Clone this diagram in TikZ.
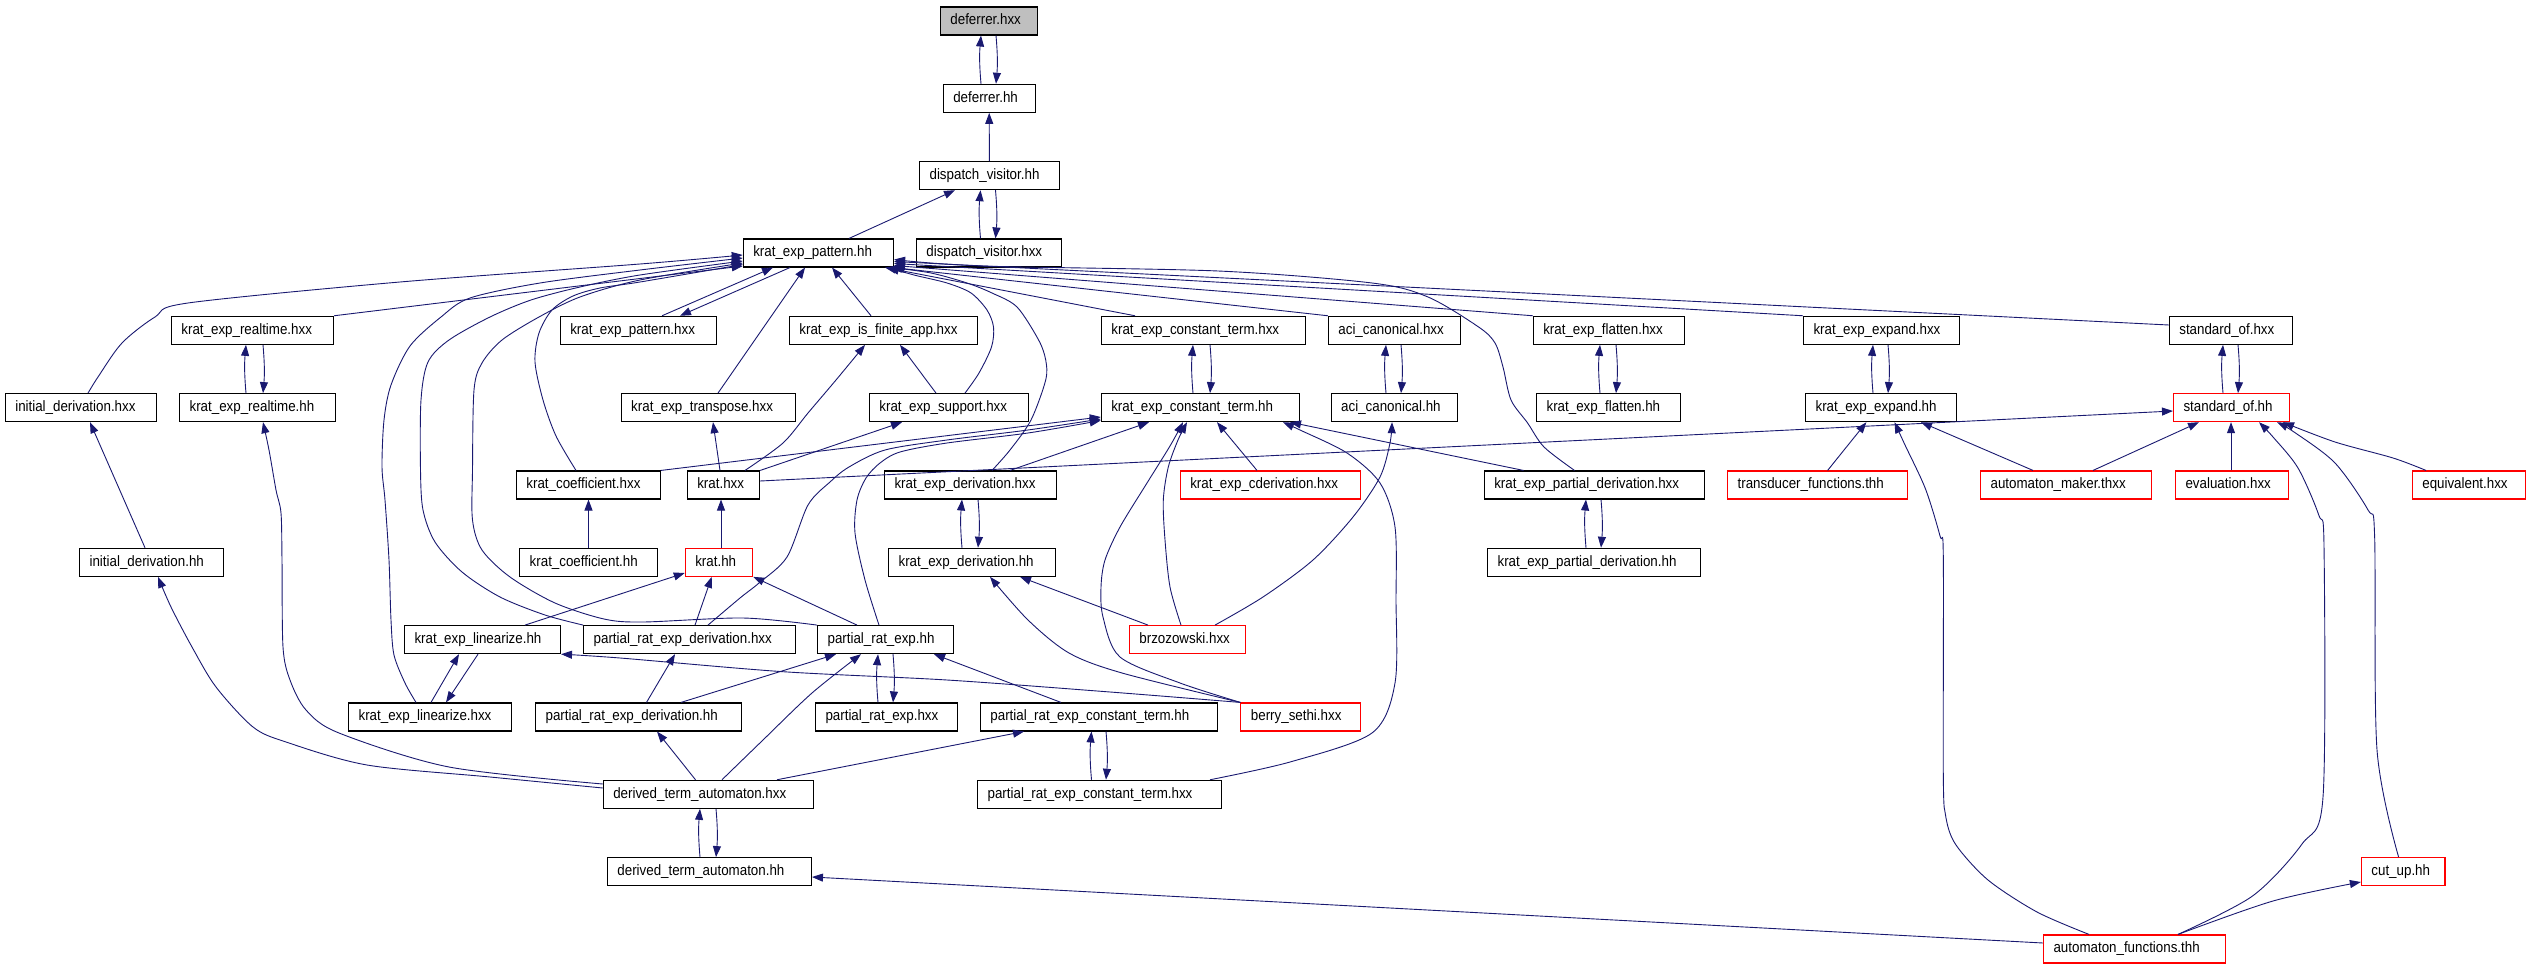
\documentclass[tikz,border=0pt]{standalone}
\usepackage{fontspec}
\setmainfont{Liberation Sans}[FakeStretch=0.89]
\usetikzlibrary{arrows.meta}
\definecolor{edgec}{HTML}{191970}
\definecolor{grayfill}{HTML}{BFBFBF}
\tikzset{
  box/.style={draw=black, fill=white, line width=1.1pt, rectangle, minimum height=28pt,
    inner ysep=0pt, inner xsep=10pt, align=left, text height=11pt, text depth=3.5pt,
    font=\fontsize{15}{17}\selectfont},
  redbox/.style={box, draw=red},
  graybox/.style={box, fill=grayfill},
  e/.style={draw=edgec, line width=0.9pt, -{Triangle[length=11pt,width=8pt]}},
}
\newcommand\DNode[6]{%
  \pgfmathsetmacro\nw{#4-#3-20}%
  \pgfmathsetmacro\ncx{(#3+#4)/2}%
  \pgfmathsetmacro\ncy{21+77.33*#5}%
  \node[#1,text width=\nw pt] (#2) at (\ncx,\ncy) {\mbox{#6}};}
\newcommand\Pair[4]{%
  \draw[e] (#2.north -| #3,0) to[bend left=5] (#1.south -| #3,0);
  \draw[e] (#1.south -| #4,0) to[bend left=5] (#2.north -| #4,0);}
\begin{document}
\begin{tikzpicture}[x=1pt,y=-1pt]
\useasboundingbox (0,0) rectangle (2529,968);
\DNode{graybox}{defhxx}{940.4}{1037.2}{0}{deferrer.hxx}
\DNode{box}{defhh}{943.3}{1035.1}{1}{deferrer.hh}
\DNode{box}{dvhh}{919.6}{1059.2}{2}{dispatch\_visitor.hh}
\DNode{box}{kephh}{743.3}{893.5}{3}{krat\_exp\_pattern.hh}
\DNode{box}{dvhxx}{916.4}{1061.3}{3}{dispatch\_visitor.hxx}
\DNode{box}{kerthxx}{171.4}{333.5}{4}{krat\_exp\_realtime.hxx}
\DNode{box}{kephxx}{560.3}{716.3}{4}{krat\_exp\_pattern.hxx}
\DNode{box}{keifa}{789.4}{977.6}{4}{krat\_exp\_is\_finite\_app.hxx}
\DNode{box}{kecthxx}{1101.4}{1305.4}{4}{krat\_exp\_constant\_term.hxx}
\DNode{box}{acihxx}{1328.4}{1460.2}{4}{aci\_canonical.hxx}
\DNode{box}{kefhxx}{1533.3}{1684.3}{4}{krat\_exp\_flatten.hxx}
\DNode{box}{keehxx}{1803.5}{1959.1}{4}{krat\_exp\_expand.hxx}
\DNode{box}{sohxx}{2169.3}{2292.7}{4}{standard\_of.hxx}
\DNode{box}{idhxx}{5.3}{156.3}{5}{initial\_derivation.hxx}
\DNode{box}{kerthh}{179.6}{335.5}{5}{krat\_exp\_realtime.hh}
\DNode{box}{ketr}{621.2}{795.5}{5}{krat\_exp\_transpose.hxx}
\DNode{box}{kesup}{869.4}{1028.2}{5}{krat\_exp\_support.hxx}
\DNode{box}{kecthh}{1101.3}{1299.4}{5}{krat\_exp\_constant\_term.hh}
\DNode{box}{acihh}{1331.2}{1457.4}{5}{aci\_canonical.hh}
\DNode{box}{kefhh}{1536.6}{1680.2}{5}{krat\_exp\_flatten.hh}
\DNode{box}{keehh}{1805.6}{1956.6}{5}{krat\_exp\_expand.hh}
\DNode{redbox}{sohh}{2173.5}{2289.3}{5}{standard\_of.hh}
\DNode{box}{kchxx}{516.4}{660.4}{6}{krat\_coefficient.hxx}
\DNode{box}{krathxx}{687.3}{759.6}{6}{krat.hxx}
\DNode{box}{kedhxx}{884.5}{1056.4}{6}{krat\_exp\_derivation.hxx}
\DNode{redbox}{kecd}{1180.3}{1360.3}{6}{krat\_exp\_cderivation.hxx}
\DNode{box}{kepdhxx}{1484.3}{1704.3}{6}{krat\_exp\_partial\_derivation.hxx}
\DNode{redbox}{tf}{1727.6}{1907.3}{6}{transducer\_functions.thh}
\DNode{redbox}{am}{1980.6}{2151.5}{6}{automaton\_maker.thxx}
\DNode{redbox}{ev}{2175.5}{2288.5}{6}{evaluation.hxx}
\DNode{redbox}{eq}{2412.3}{2525.3}{6}{equivalent.hxx}
\DNode{box}{idhh}{79.6}{223.3}{7}{initial\_derivation.hh}
\DNode{box}{kchh}{519.7}{657.6}{7}{krat\_coefficient.hh}
\DNode{redbox}{krathh}{685.3}{752.7}{7}{krat.hh}
\DNode{box}{kedhh}{888.6}{1055.6}{7}{krat\_exp\_derivation.hh}
\DNode{box}{kepdhh}{1487.6}{1700.2}{7}{krat\_exp\_partial\_derivation.hh}
\DNode{box}{kelhh}{404.5}{560.5}{8}{krat\_exp\_linearize.hh}
\DNode{box}{predhxx}{583.7}{795.5}{8}{partial\_rat\_exp\_derivation.hxx}
\DNode{box}{prehh}{817.6}{953.5}{8}{partial\_rat\_exp.hh}
\DNode{redbox}{brz}{1129.4}{1245.4}{8}{brzozowski.hxx}
\DNode{box}{kelhxx}{348.6}{511.5}{9}{krat\_exp\_linearize.hxx}
\DNode{box}{predhh}{535.6}{741.2}{9}{partial\_rat\_exp\_derivation.hh}
\DNode{box}{prehxx}{815.5}{957.6}{9}{partial\_rat\_exp.hxx}
\DNode{box}{prectshh}{980.4}{1217.6}{9}{partial\_rat\_exp\_constant\_term.hh}
\DNode{redbox}{bs}{1240.9}{1360.2}{9}{berry\_sethi.hxx}
\DNode{box}{dtahxx}{603.3}{813.1}{10}{derived\_term\_automaton.hxx}
\DNode{box}{prectshxx}{977.6}{1221.3}{10}{partial\_rat\_exp\_constant\_term.hxx}
\DNode{box}{dtahh}{607.4}{811.4}{11}{derived\_term\_automaton.hh}
\DNode{redbox}{cut}{2361.4}{2445}{11}{cut\_up.hh}
\DNode{redbox}{af}{2043.5}{2225.6}{12}{automaton\_functions.thh}

% top chain
\Pair{defhxx}{defhh}{981}{996}
\draw[e] (dvhh.north) -- (defhh.south);
\Pair{dvhh}{dvhxx}{980.5}{995.5}
\draw[e] (kephh.north -| 849,0) -- (dvhh.south -| 955,0);

% into krat_exp_pattern.hh, left side
\draw[e] (kerthxx.north east) -- (kephh.west |- 0,266);
\draw[e] plot[smooth] coordinates {(idhxx.north -| 88,0) (98,377) (122,343) (155,317) (188,303) (400,282) (640,264) (kephh.west |- 0,255)};
\draw[e] plot[smooth] coordinates {(kelhxx.north -| 416,0) (405,683) (394,655) (391,620) (389,560) (385,500) (382,467) (384,420) (391,385) (410,346) (441,317) (470,298) (540,283) (640,270) (kephh.west |- 0,258)};
\draw[e] plot[smooth] coordinates {(predhxx.north west) (545,615) (500,597) (462,572) (435,542) (423,510) (420.5,470) (421,400) (428,362) (449,340) (490,317) (531,300) (580,287) (640,275) (kephh.west |- 0,261)};
\draw[e] plot[smooth] coordinates {(prehh.north west) (743,618) (643,622) (604,619) (555,603) (510,577) (482,550) (472.5,520) (472.5,470) (474,390) (482,363) (502,340) (539,317) (580,297) (640,280) (kephh.west |- 0,263)};
\draw[e] plot[smooth] coordinates {(kchxx.north -| 576,0) (556,436) (543,400) (535,362) (539,333) (552,310) (573,296) (600,288) (640,282) (kephh.west |- 0,264.5)};
\draw[e] (kephxx.north -| 662,0) -- (kephh.south -| 773,0);
\draw[e] (kephh.south -| 790,0) -- (kephxx.north -| 680,0);
\draw[e] (ketr.north -| 718,0) -- (kephh.south -| 805,0);
\draw[e] (keifa.north -| 871,0) -- (kephh.south -| 832,0);

% into krat_exp_pattern.hh, right side
\draw[e] plot[smooth] coordinates {(kesup.north -| 965,0) (979,373) (991.5,347) (993.5,327) (987,310) (971,293) (947,283) (914,275) ([xshift=-6pt]kephh.south east)};
\draw[e] plot[smooth] coordinates {(kedhxx.north -| 992,0) (1010,450) (1031,420) (1045.7,380) (1045.7,360) (1038.6,340) (1017,307) (992,293) (967,283) (931,273) ([xshift=-3pt]kephh.south east)};
\draw[e] (kecthxx.north -| 1135,0) -- ([xshift=-9pt]kephh.south east);
\draw[e] (acihxx.north west) -- ([xshift=-1pt]kephh.south east);
\draw[e] (kefhxx.north west) -- ([yshift=2pt]kephh.south east);
\draw[e] (keehxx.north west) -- ([yshift=4pt]kephh.south east);
\draw[e] (sohxx.west |- 0,325) -- ([yshift=6pt]kephh.south east);
\draw[e] plot[smooth] coordinates {(kepdhxx.north -| 1574.5,0) (1544,447) (1527.6,423) (1511,400) (1503,367) (1495,343) (1478.6,327) (1428,297) (1372,283) (1218,271) (982,266) ([yshift=8pt]kephh.south east)};

% krat.hxx
\draw[e] (krathxx.north -| 720,0) -- (ketr.south -| 713,0);
\draw[e] plot[smooth] coordinates {(krathxx.north -| 745,0) (783,443) (808,413) (836,380) (keifa.south -| 865,0)};
\draw[e] (krathxx.north east) -- (kesup.south -| 902,0);
\draw[e] (kesup.north -| 936,0) -- (keifa.south -| 900,0);
\draw[e] (krathxx.east |- 0,481) -- (sohh.west |- 0,411);

% into krat_exp_constant_term.hh
\Pair{kecthxx}{kecthh}{1193}{1210}
\draw[e] (kchxx.north east) -- (kecthh.west |- 0,417);
\draw[e] plot[smooth] coordinates {(predhxx.north -| 708,0) (740,598) (759,583) (787,557) (808,505) (830,482) (849,467) (885,450) (947,440) (1028,430) (kecthh.west |- 0,419)};
\draw[e] plot[smooth] coordinates {(prehh.north -| 879,0) (865,580) (855,533) (857,500) (866,478) (880,463) (900,452) (947,443) (1028,433) (kecthh.west |- 0,420.5)};
\draw[e] (kedhxx.north -| 1010,0) -- (kecthh.south -| 1149,0);
\draw[e] (kecd.north -| 1257,0) -- (kecthh.south -| 1217,0);
\draw[e] plot[smooth] coordinates {(brz.north -| 1181,0) (1170,587) (1165,540) (1163.3,500) (1168.3,467) (1178,440) (kecthh.south -| 1187,0)};
\draw[e] plot[smooth] coordinates {(bs.north west) (1180,683) (1120,657) (1103,617) (1101,587) (1105,560) (1120,527) (1147,483) (1170,446) (kecthh.south -| 1183,0)};
\draw[e] (kepdhxx.north -| 1523.5,0) -- (kecthh.south -| 1290,0);
\draw[e] plot[smooth] coordinates {(prectshxx.north -| 1210,0) (1290,762) (1372,733) (1395,683) (1396,600) (1395,527) (1380,483) (1347,453) (1300,430) (kecthh.south -| 1283,0)};

% aci / flatten / expand / standard_of / partial_derivation pairs
\Pair{acihxx}{acihh}{1386}{1401}
\draw[e] plot[smooth] coordinates {(brz.north -| 1215,0) (1263,597) (1313,560) (1353,517) (1380,477) (1390,443) (acihh.south -| 1392,0)};
\Pair{kefhxx}{kefhh}{1600}{1616}
\Pair{keehxx}{keehh}{1873}{1888}
\Pair{sohxx}{sohh}{2223}{2238}
\Pair{kedhxx}{kedhh}{962}{978}
\Pair{kepdhxx}{kepdhh}{1586}{1601}

% krat_exp_derivation.hh
\draw[e] (brz.north -| 1148,0) -- (kedhh.south -| 1020,0);
\draw[e] plot[smooth] coordinates {(bs.north west) (1122,673) (1069,653) (1028,620) (kedhh.south -| 990,0)};

% krat_exp_linearize
\draw[e] (kelhxx.north -| 431,0) -- (kelhh.south -| 459,0);
\draw[e] (kelhh.south -| 478,0) -- (kelhxx.north -| 446,0);
\draw[e] plot[smooth] coordinates {(bs.north west) (1110,692) (947,680) (783,671.7) (620,658) (kelhh.south east)};

% krat.hh, coefficient
\draw[e] (kelhh.north -| 525,0) -- (krathh.west |- 0,573);
\draw[e] (predhxx.north -| 695,0) -- (krathh.south -| 711.7,0);
\draw[e] (prehh.north -| 857,0) -- (krathh.south east);
\draw[e] (krathh.north -| 721,0) -- (krathxx.south -| 721,0);
\draw[e] (kchh.north -| 588.5,0) -- (kchxx.south -| 588.5,0);

% initial derivation / realtime
\Pair{kerthxx}{kerthh}{246}{263}
\draw[e] (idhh.north -| 145,0) -- (idhxx.south -| 90,0);
\draw[e] plot[smooth] coordinates {(dtahxx.west |- 0,788) (490,777) (367,765) (286,742) (253,727) (216,687) (192,647) (171,607) (idhh.south -| 158,0)};
\draw[e] plot[smooth] coordinates {(dtahxx.west |- 0,784) (449,767) (339,733) (306,710) (290,680) (283,647) (282,560) (281,513) (276,490) (269,450) (kerthh.south -| 263,0)};

% partial_rat_exp family
\Pair{prehh}{prehxx}{878}{893}
\Pair{prectshh}{prectshxx}{1091.5}{1106}
\Pair{dtahxx}{dtahh}{700}{716}
\draw[e] (dtahxx.north -| 695.5,0) -- (predhh.south -| 657,0);
\draw[e] plot[smooth] coordinates {(dtahxx.north -| 722,0) (763,740) (812,693) (prehh.south -| 861,0)};
\draw[e] (predhh.north -| 681,0) -- (prehh.south -| 836,0);
\draw[e] (prectshh.north -| 1061,0) -- (prehh.south -| 934,0);
\draw[e] (predhh.north -| 646.5,0) -- (predhxx.south -| 675,0);
\draw[e] (dtahxx.north -| 777,0) -- (prectshh.south -| 1024,0);

% automaton functions etc.
\draw[e] (af.west |- 0,943) -- (dtahh.east |- 0,877);
\draw[e] (tf.north -| 1827.6,0) -- (keehh.south -| 1866.4,0);
\draw[e] (am.north -| 2033,0) -- (keehh.south -| 1921,0);
\draw[e] plot[smooth] coordinates {(af.north -| 2089,0) (2037,912) (1988,880) (1956,845) (1946,818) (1943.3,776) (1943.3,557) (1940,536) (1925.5,489) (1905,445) (keehh.south -| 1894.5,0)};
\draw[e] (am.north -| 2093,0) -- (sohh.south -| 2199,0);
\draw[e] (ev.north -| 2231,0) -- (sohh.south -| 2231,0);
\draw[e] plot[smooth] coordinates {(eq.north -| 2426,0) (2393,458) (2335,442) (sohh.south -| 2283,0)};
\draw[e] plot[smooth] coordinates {(af.north -| 2178,0) (2252.5,896) (2302,844) (2323,797) (2324,546.5) (2318.7,515) (2298,468) (2273,437) (sohh.south -| 2259,0)};
\draw[e] plot[smooth] coordinates {(cut.north -| 2398.6,0) (2377,750) (2374.6,536) (2368,510) (2335,463) (2294,432) (sohh.south -| 2277,0)};
\draw[e] plot[smooth] coordinates {(af.north -| 2178,0) (2273,901) (cut.west |- 0,882)};
\end{tikzpicture}
\end{document}
